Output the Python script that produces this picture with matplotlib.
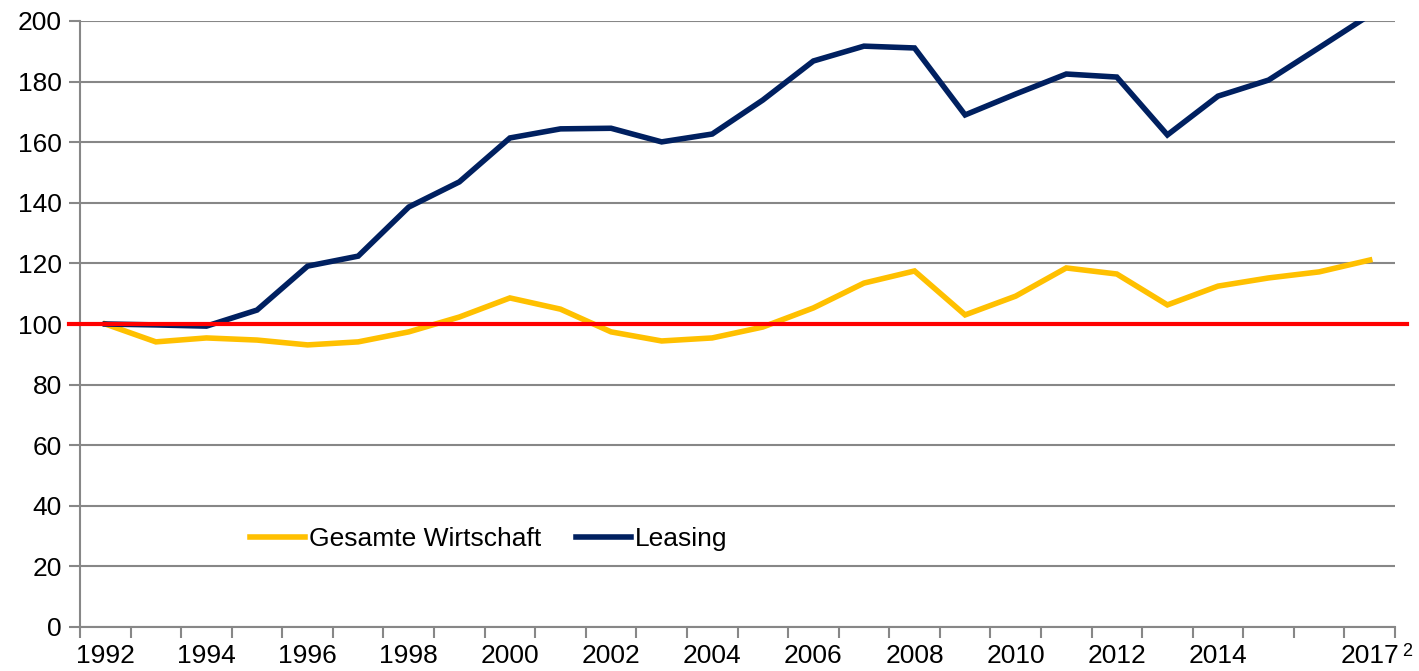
import numpy as np
import matplotlib
matplotlib.use("Agg")
import matplotlib.pyplot as plt

plt.rcParams['font.family'] = ['Liberation Sans', 'DejaVu Sans']

# Index values, 1992 = 100
years = list(range(1992, 2018))
gesamt = [100, 94.1, 95.4, 94.7, 93.1, 94.1, 97.4, 102.3, 108.6, 104.9, 97.4, 94.4, 95.4,
          99.0, 105.3, 113.5, 117.5, 103.0, 109.2, 118.5, 116.5, 106.3, 112.5, 115.2, 117.2, 121.1]
leasing = [100, 99.7, 99.3, 104.6, 119.1, 122.4, 138.6, 146.9, 161.4, 164.4, 164.6, 160.1, 162.7,
           173.9, 186.8, 191.7, 191.1, 169.0, 175.9, 182.5, 181.5, 162.4, 175.2, 180.5, 191.2, 202]
year_labels = ['1992', '1994', '1996', '1998', '2000', '2002', '2004', '2006', '2008', '2010',
               '2012', '2014', '2017']
baseline = 100

GREY = '#878787'
YELLOW = '#FFC000'
NAVY = '#002060'
FS = 19

fig = plt.figure(figsize=(14.19, 6.71), dpi=100)
ax = fig.add_axes([80 / 1419, 1 - 627 / 671, (1395 - 80) / 1419, (627 - 21) / 671])

x = np.arange(len(years))
ax.plot(x, gesamt, color=YELLOW, lw=4, label='Gesamte Wirtschaft', zorder=3,
        solid_joinstyle='miter')
ax.plot(x, leasing, color=NAVY, lw=4, label='Leasing', zorder=3,
        solid_joinstyle='miter')
# red reference line runs slightly past the plot area
ax.plot([-0.008, 1.009], [baseline, baseline], color='#FF0000', lw=3,
        transform=ax.get_yaxis_transform(), clip_on=False, zorder=4)

ax.set_xlim(-0.5, len(years) - 0.5)
ax.set_ylim(0, 200)
ax.set_yticks(range(0, 201, 20))
ax.grid(axis='y', color=GREY, lw=1.5)
ax.set_axisbelow(True)

# boundaries between categories carry the tick marks, labels sit in the middle
ax.set_xticks(np.arange(-0.5, len(years), 1.0))
ax.set_xticklabels([])
label_pos = [years.index(int(y)) for y in year_labels]
ax.set_xticks(label_pos, minor=True)
ax.set_xticklabels(year_labels, minor=True)
ax.tick_params(axis='x', which='major', length=8, width=1.5, color=GREY, direction='out')
ax.tick_params(axis='x', which='minor', length=0, labelsize=FS, pad=12)
ax.tick_params(axis='y', length=8, width=1.5, color=GREY, labelsize=FS, pad=5)

for s in ['top', 'right']:
    ax.spines[s].set_visible(False)
for s in ['left', 'bottom']:
    ax.spines[s].set_color(GREY)
    ax.spines[s].set_linewidth(1.5)

fig.text(1407 / 1419, 1 - 652 / 671, '2', fontsize=13, ha='center', va='center')

ax.legend(loc='center left', bbox_to_anchor=(170 / 1315, (627 - 539) / 606), frameon=False,
          ncol=2, fontsize=FS, handlelength=2.1, handletextpad=0.15, columnspacing=1.3,
          borderaxespad=0, borderpad=0)

fig.savefig('out.png', dpi=100, facecolor='white')
